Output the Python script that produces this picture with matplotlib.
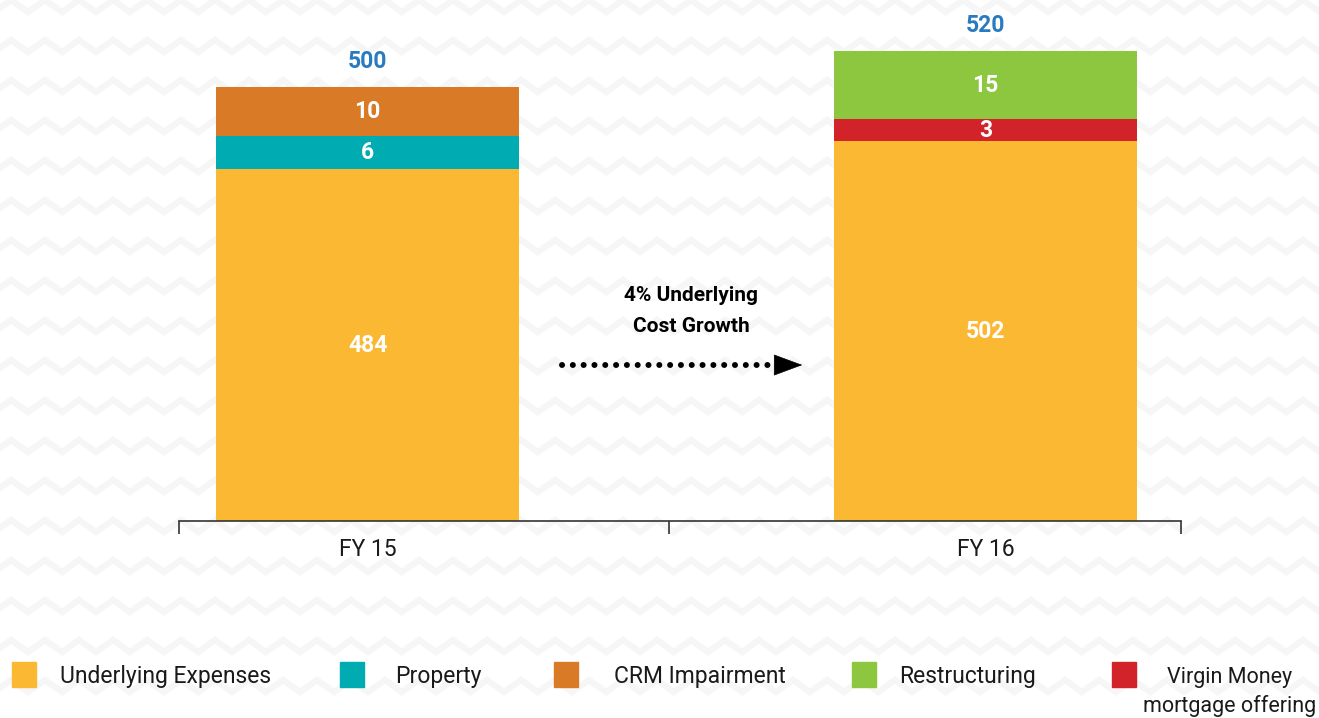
import numpy as np
import matplotlib
matplotlib.use("Agg")
import matplotlib.pyplot as plt
from matplotlib.patches import Rectangle

# data
years = ["FY 15", "FY 16"]
base = [484, 502]                      # underlying expenses
totals = [500, 520]
fy15_extra = [("Property", 6), ("CRM Impairment", 10)]
fy16_extra = [("Virgin Money\nmortgage offering", 3), ("Restructuring", 15)]

colors = {
    "Underlying Expenses": "#FBB832",
    "Property": "#00ABB1",
    "CRM Impairment": "#D97A27",
    "Restructuring": "#8DC63F",
    "Virgin Money\nmortgage offering": "#D2232A",
}
legend_order = ["Underlying Expenses", "Property", "CRM Impairment",
                "Restructuring", "Virgin Money\nmortgage offering"]

FONT = ["Roboto", "DejaVu Sans"]
plt.rcParams["font.family"] = FONT

# the source chart is not to scale: axis is cut and the small items are stretched
AXIS_FLOOR = 258
def shown(v):
    return v * 2.46 + 6.9

fig = plt.figure(figsize=(13.19, 7.18), dpi=100, facecolor="white")

# faint chevron background
bg = fig.add_axes([0, 0, 1, 1], zorder=-5)
bg.set_xlim(0, 1319)
bg.set_ylim(718, 0)
bg.axis("off")
xs = np.arange(-40, 1360, 17)
for row in range(-1, 20):
    y0 = row * 40
    ys = y0 + np.where((np.arange(len(xs)) % 2) == 0, 12, 0)
    bg.plot(xs, ys, color="#f6f6f6", lw=4.5, solid_joinstyle="miter")

ax = fig.add_axes([179 / 1319, (718 - 521) / 718, 1002 / 1319, 521 / 718])
ax.patch.set_alpha(0)

x = np.arange(len(years))
w = 0.49
ax.bar(x, base, width=w, color=colors["Underlying Expenses"], zorder=2)
for i, v in enumerate(base):
    ax.text(x[i], (AXIS_FLOOR + v) / 2, str(v), ha="center", va="center",
            color="white", fontsize=16.5, fontweight="bold")

for i, extras in enumerate([fy15_extra, fy16_extra]):
    bottom = base[i]
    for name, v in extras:
        h = shown(v)
        ax.bar(x[i], h, width=w, bottom=bottom, color=colors[name], zorder=2)
        ax.text(x[i], bottom + h / 2, str(v), ha="center", va="center",
                color="white", fontsize=16.5, fontweight="bold")
        bottom += h
    ax.annotate(str(totals[i]), (x[i], bottom), xytext=(0, 18),
                textcoords="offset points", ha="center", va="center",
                color="#2A7ABF", fontsize=16.5, fontweight="bold")

ax.set_xlim(-0.305, 1.316)
ax.set_ylim(AXIS_FLOOR, AXIS_FLOOR + 521 / 1.556)

for s in ["left", "right", "top"]:
    ax.spines[s].set_visible(False)
ax.spines["bottom"].set_color("#333333")
ax.spines["bottom"].set_linewidth(1.2)
ax.set_yticks([])
ax.set_xticks(x)
ax.set_xticklabels(years, fontsize=16.5, color="#1a1a1a")
ax.set_xticks([-0.305, 0.488, 1.316], minor=True)
ax.tick_params(axis="x", which="major", length=0, pad=12)
ax.tick_params(axis="x", which="minor", length=9, width=1.2, color="#333333",
               direction="out")

# growth arrow
ax.plot([0.382, 0.593], [0.2994, 0.2994], transform=ax.transAxes,
        color="black", lw=4.3, linestyle=(0, (0.01, 1.8)),
        dash_capstyle="round", zorder=3)
ax.annotate("", xy=(0.622, 0.2994), xytext=(0.594, 0.2994),
            xycoords="axes fraction", textcoords="axes fraction",
            arrowprops=dict(arrowstyle="-|>,head_length=0.97,head_width=0.36",
                            mutation_scale=20, color="black", lw=0.5,
                            shrinkA=0, shrinkB=0))
ax.text(0.511, 0.403, "4% Underlying\nCost Growth", transform=ax.transAxes,
        ha="center", va="center", fontsize=15, fontweight="bold",
        linespacing=1.75)

# legend laid out like the original
leg_sq = [12, 340, 554, 852, 1112]
leg_tx = [60, 395, 614, 899, 1230]
for name, sx, tx in zip(legend_order, leg_sq, leg_tx):
    fig.patches.append(Rectangle((sx / 1319, (718 - 687) / 718), 24 / 1319, 25 / 718,
                                 transform=fig.transFigure, color=colors[name]))
    if "\n" in name:
        fig.text(tx / 1319, (718 - 692) / 718, name, ha="center", va="center",
                 fontsize=15.5, color="#1a1a1a", linespacing=1.45)
    else:
        fig.text(tx / 1319, (718 - 676) / 718, name, ha="left", va="center",
                 fontsize=16.5, color="#1a1a1a")

fig.savefig("out.png", dpi=100, facecolor="white")
